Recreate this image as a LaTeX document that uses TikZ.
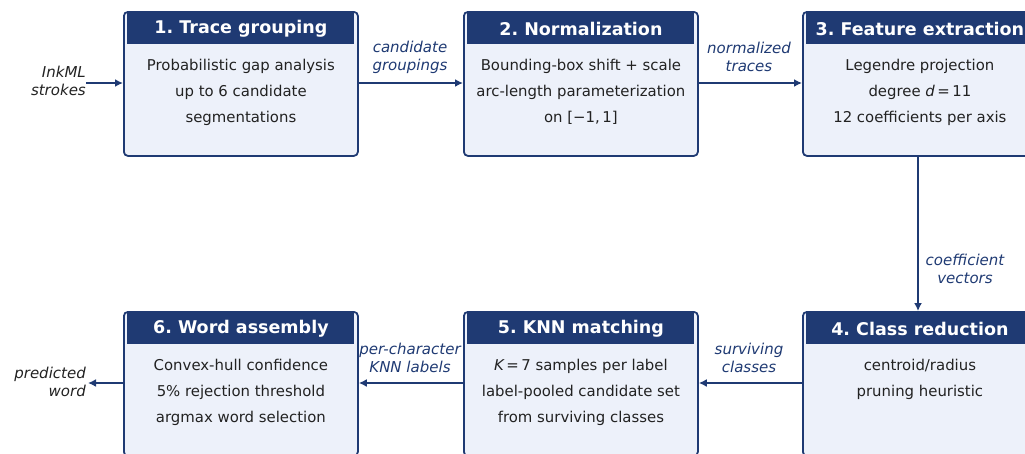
\documentclass[tikz,border=0pt]{standalone}
\usepackage{fontspec}
\setmainfont{DejaVu Sans}
\usetikzlibrary{arrows.meta,positioning,calc}
\frenchspacing
\definecolor{navy}{HTML}{1F3A73}
\definecolor{boxfill}{HTML}{EDF1FA}
\definecolor{txt}{HTML}{222222}
\tikzset{
  stage/.style={draw=navy, line width=1.8pt, fill=boxfill, rounded corners=4pt,
    minimum width=234pt, minimum height=144pt, anchor=north west, inner sep=0pt},
  head/.style={fill=navy, text=white, font=\fontsize{17.5}{20}\selectfont\bfseries\frenchspacing,
    minimum width=227pt, minimum height=31pt, inner sep=0pt},
  body/.style={text=txt, font=\fontsize{14.9}{26}\selectfont, align=center, anchor=north, inner sep=0pt},
  flow/.style={draw=navy, line width=2.7pt, -{Latex[length=8pt,width=8pt]}},
  elab/.style={text=navy, font=\fontsize{15}{18}\selectfont\itshape, align=center, inner sep=0pt},
  iolab/.style={text=txt, font=\fontsize{15}{18}\selectfont\itshape, align=right, inner sep=0pt},
}
\begin{document}
\begin{tikzpicture}[x=1pt,y=-1pt]
\useasboundingbox (0,0) rectangle (1025,453);
% boxes
\node[stage] (b1) at (123,11) {};
\node[stage] (b2) at (463,11) {};
\node[stage] (b3) at (802,11) {};
\node[stage] (b4) at (802,311) {};
\node[stage] (b5) at (463,311) {};
\node[stage] (b6) at (123,311) {};
% headers
\node[head] (h1) at ($(b1.north)+(0,17.5)$) {1. Trace grouping};
\node[head] (h2) at ($(b2.north)+(0,17.5)$) {2. Normalization};
\node[head] (h3) at ($(b3.north)+(0,17.5)$) {3. Feature extraction};
\node[head] (h4) at ($(b4.north)+(0,17.5)$) {4. Class reduction};
\node[head] (h5) at ($(b5.north)+(0,17.5)$) {5. KNN matching};
\node[head] (h6) at ($(b6.north)+(0,17.5)$) {6. Word assembly};
% bodies
\node[body] (t1) at ($(b1.north)+(0,48)$) {Probabilistic gap analysis\\up to 6 candidate\\segmentations};
\node[body] (t2) at ($(b2.north)+(0,48)$) {Bounding-box shift + scale\\arc-length parameterization\\on [−1,\,1]};
\node[body] (t3) at ($(b3.north)+(0,48)$) {Legendre projection\\degree {\itshape d}\,=\,11\\12 coefficients per axis};
\node[body] (t4) at ($(b4.north)+(0,48)$) {centroid/radius\\pruning heuristic};
\node[body] (t5) at ($(b5.north)+(0,48)$) {{\itshape K}\,=\,7 samples per label\\label-pooled candidate set\\from surviving classes};
\node[body] (t6) at ($(b6.north)+(0,48)$) {Convex-hull confidence\\5\% rejection threshold\\argmax word selection};
% io
\coordinate (in) at (86,83);
\coordinate (out) at (88,383);
\node[iolab, anchor=east] (inl) at (86,81) {InkML\\strokes};
\node[iolab, anchor=east] (outl) at (86,382) {predicted\\word};
\draw[flow] (in) -- (b1.west |- in);
\draw[flow] (b1.east |- in) -- (b2.west |- in);
\draw[flow] (b2.east |- in) -- (b3.west |- in);
\draw[flow] (b3.south -| 918,0) -- (918,311);
\draw[flow] (b4.west |- out) -- (b5.east |- out);
\draw[flow] (b5.west |- out) -- (b6.east |- out);
\draw[flow] (b6.west |- out) -- (out);
% edge labels
\node[elab] (l12) at (410,57) {candidate\\groupings};
\node[elab] (l23) at (749,57) {normalized\\traces};
\node[elab] (l34) at (965,269) {coefficient\\vectors};
\node[elab] (l45) at (749,358) {surviving\\classes};
\node[elab] (l56) at (410,358) {per-character\\KNN labels};
\end{tikzpicture}
\end{document}
